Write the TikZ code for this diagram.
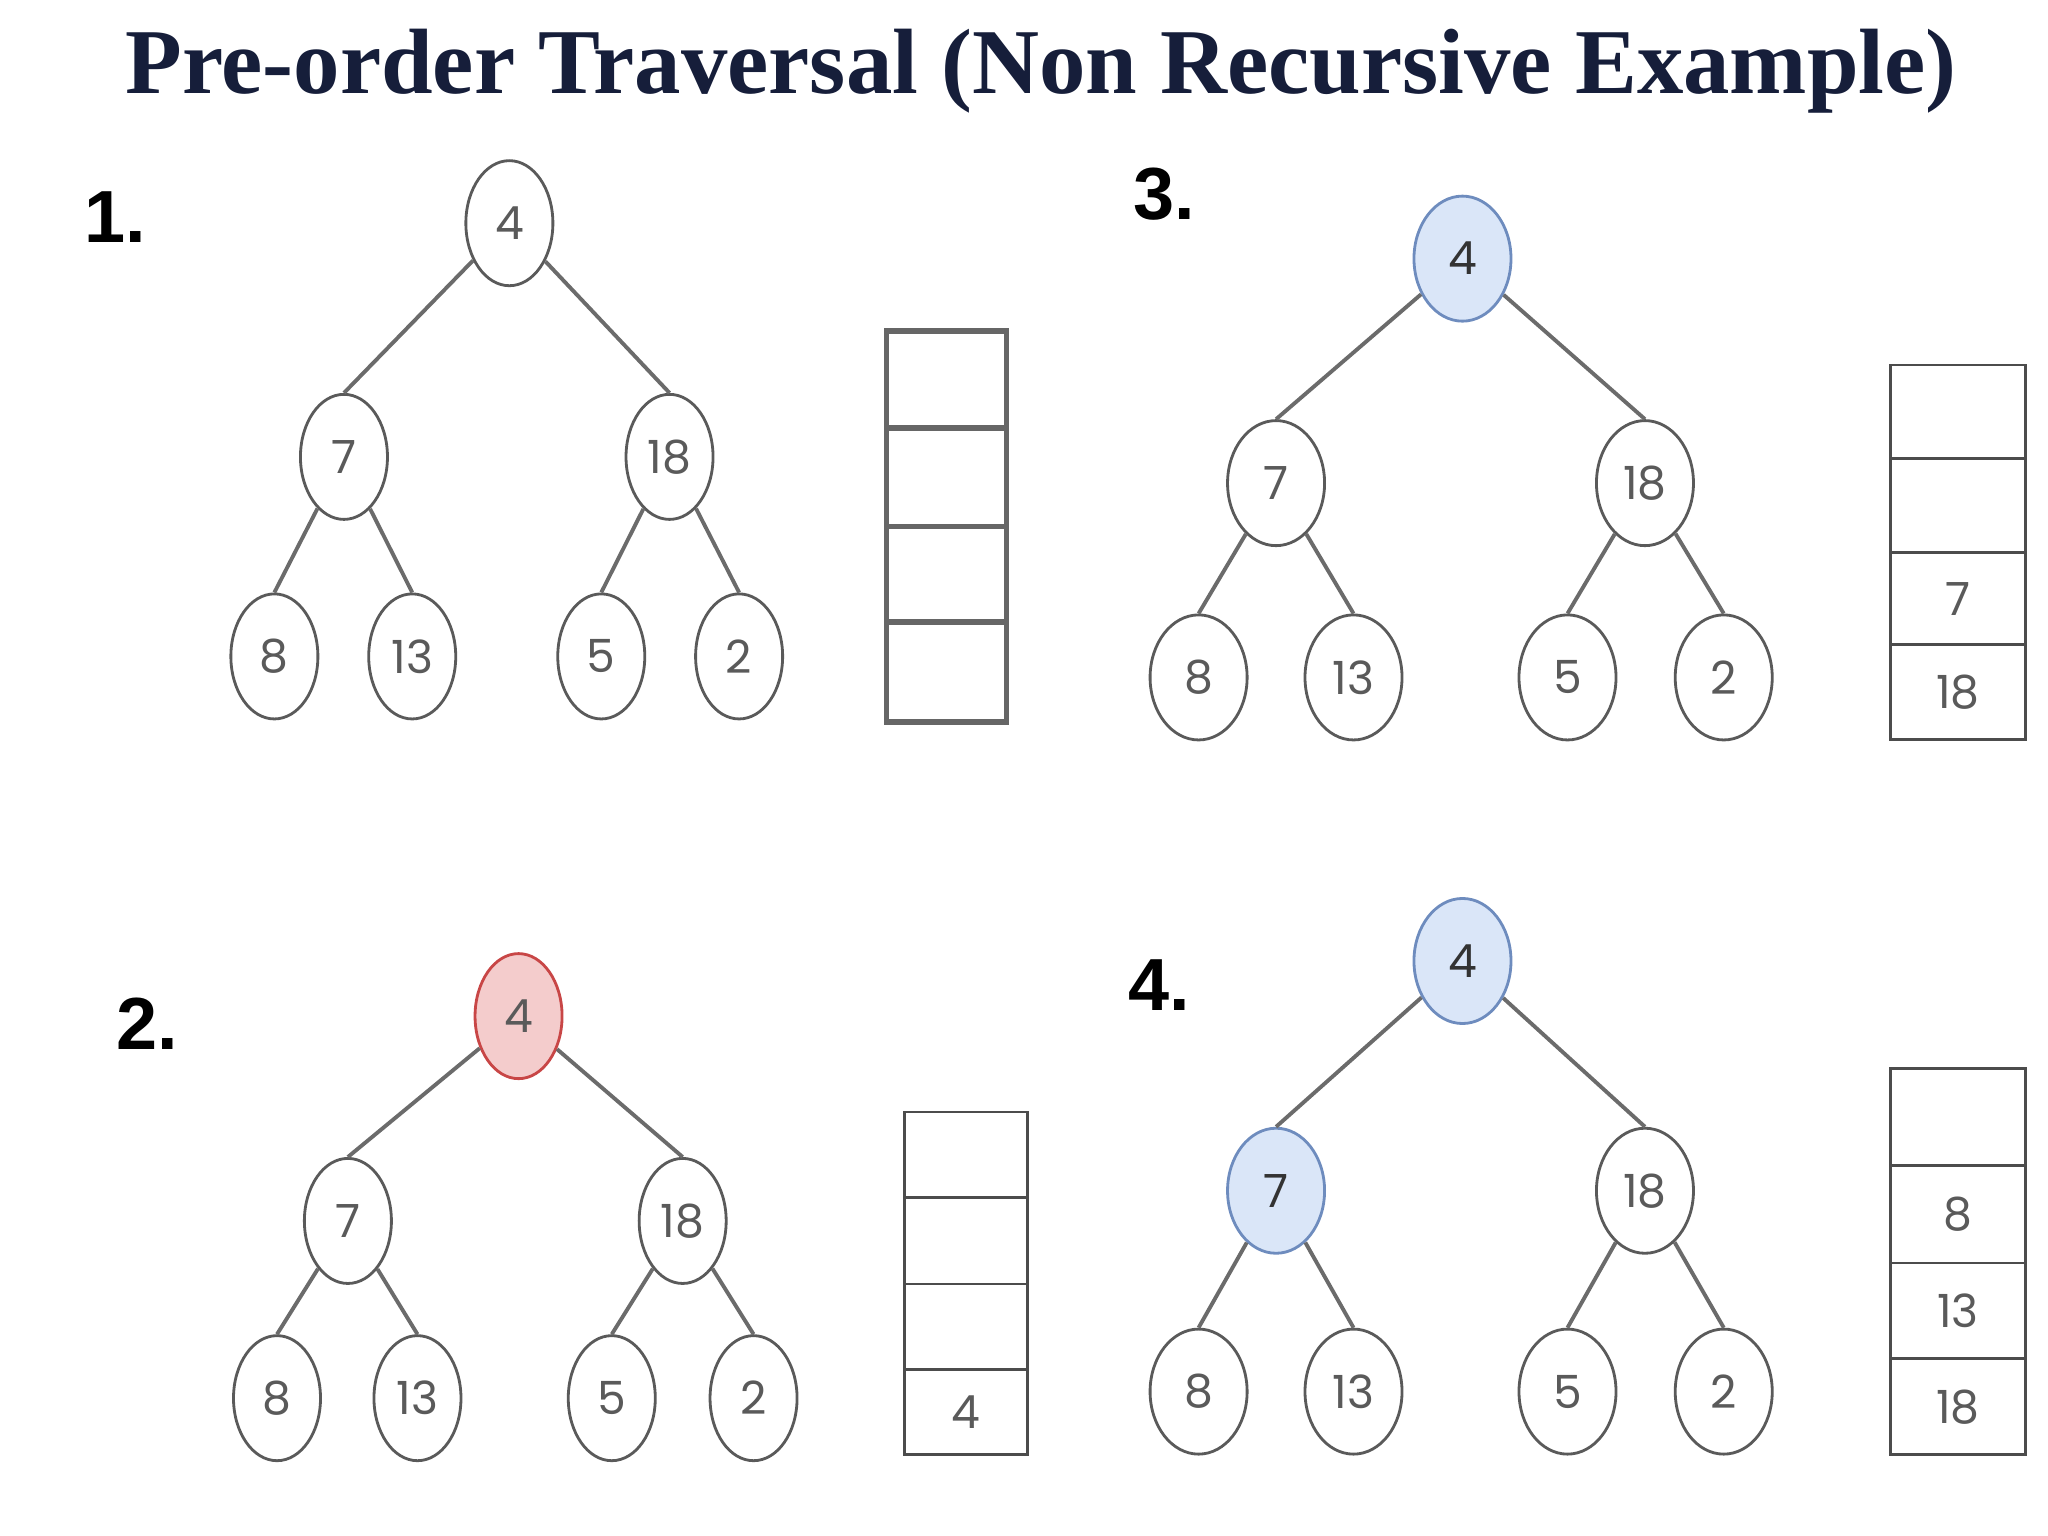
\documentclass[tikz,border=0pt]{standalone}
\usepackage{fontspec}
\setmainfont{Liberation Serif}
\newfontfamily\numfont{Poppins}
\newfontfamily\labfont{Liberation Sans}
\usetikzlibrary{shapes.geometric}
\definecolor{navy}{RGB}{22,30,58}
\definecolor{nodegray}{RGB}{90,90,90}
\definecolor{redfill}{RGB}{244,204,204}
\definecolor{redline}{RGB}{200,70,70}
\definecolor{bluefill}{RGB}{218,230,248}
\definecolor{blueline}{RGB}{110,140,190}
\tikzset{
  tnode/.style={ellipse,draw=nodegray,line width=0.8pt,fill=white,minimum width=0.87cm,minimum height=1.25cm,inner sep=0pt,font=\numfont\fontsize{13}{13}\selectfont,text=nodegray},
  redn/.style={fill=redfill,draw=redline},
  bluen/.style={fill=bluefill,draw=blueline,text=black!80},
  edge/.style={draw=nodegray!90,line width=1.1pt},
  cell/.style={draw=black!70,line width=0.8pt},
  celltxt/.style={font=\numfont\fontsize{13}{13}\selectfont,text=nodegray},
  steplabel/.style={font=\labfont\bfseries\fontsize{21}{21}\selectfont,text=black}
}
\newcommand{\mytree}[8]{%
  \node[tnode,#8] (#1r) at (#2) {4};
  \node[tnode,#7] (#1a) at (#3) {7};
  \node[tnode] (#1b) at (#4) {18};
  \foreach \px/\py/\t/\nm in {#5}{\node[tnode] (#1\nm) at (\px,\py) {\t};}
  \draw[edge] (#1r) -- (#1a.north); \draw[edge] (#1r) -- (#1b.north);
  \draw[edge] (#1a) -- (#1c.north); \draw[edge] (#1a) -- (#1d.north);
  \draw[edge] (#1b) -- (#1e.north); \draw[edge] (#1b) -- (#1f.north);
}
\begin{document}
\begin{tikzpicture}[x=0.013128cm,y=-0.013128cm]
\useasboundingbox (0,0) rectangle (1560,1170);
\node[text=navy] (title) at (793,54) {\resizebox{18.3cm}{!}{\bfseries Pre-order Traversal (Non Recursive Example)}};
\node[steplabel] (l1) at (88,165) {1.};
\node[steplabel] (l2) at (112,780) {2.};
\node[steplabel] (l3) at (887,148) {3.};
\node[steplabel] (l4) at (883,750) {4.};
\mytree{p}{388,170}{262,348}{510,348}{209/500/8/c,314/500/13/d,458/500/5/e,563/500/2/f}{}{}{}
\mytree{q}{395,774}{265,930}{520,930}{211/1065/8/c,318/1065/13/d,466/1065/5/e,574/1065/2/f}{}{}{redn}
\begin{scope}[tnode/.append style={minimum width=0.97cm}]
\mytree{s}{1114,197}{972,368}{1253,368}{913/516/8/c,1031/516/13/d,1194/516/5/e,1313/516/2/f}{}{}{bluen}
\mytree{u}{1114,732}{972,907}{1253,907}{913/1060/8/c,1031/1060/13/d,1194/1060/5/e,1313/1060/2/f}{}{bluen}{bluen}
\end{scope}
\foreach \a/\b/\n in {252/326/1,326/401/2,401/474/3,474/550/4}{
  \node[cell,line width=1.6pt,draw=black!60,minimum width=1.2cm,minimum height={(\b-\a)*0.013128cm},inner sep=0pt] (sa\n) at (721,{(\a+\b)/2}) {};}
\foreach \a/\b/\n/\t in {847/912/1/,912/978/2/,978/1043/3/,1043/1108/4/4}{
  \node[cell,celltxt,minimum width=1.23cm,minimum height={(\b-\a)*0.013128cm},inner sep=0pt] (sb\n) at (736,{(\a+\b)/2}) {\t};}
\foreach \a/\b/\n/\t in {278/349/1/,349/421/2/,421/491/3/7,491/563/4/18}{
  \node[cell,celltxt,minimum width=1.35cm,minimum height={(\b-\a)*0.013128cm},inner sep=0pt] (sc\n) at (1491.5,{(\a+\b)/2}) {\t};}
\foreach \a/\b/\n/\t in {814/888/1/,888/962/2/8,962/1035/3/13,1035/1108/4/18}{
  \node[cell,celltxt,minimum width=1.35cm,minimum height={(\b-\a)*0.013128cm},inner sep=0pt] (sd\n) at (1491.5,{(\a+\b)/2}) {\t};}
\end{tikzpicture}
\end{document}
